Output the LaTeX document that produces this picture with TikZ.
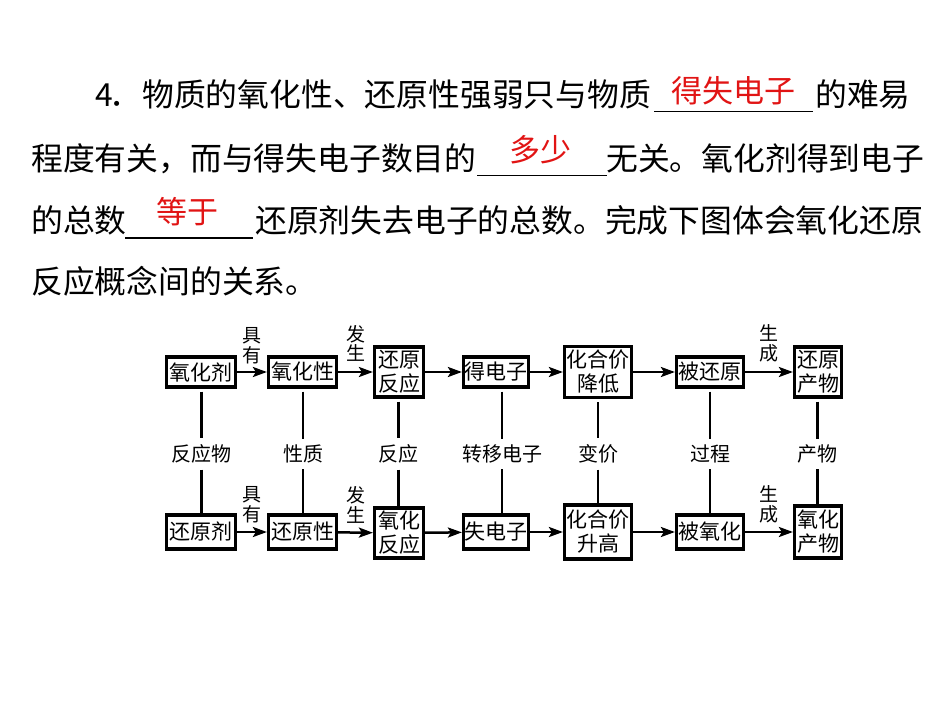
\documentclass[tikz,border=0pt]{standalone}
\usepackage{fontspec}
\setmainfont{Noto Sans CJK SC}
\usetikzlibrary{arrows.meta,calc}
\definecolor{ansred}{RGB}{225,20,20}
\begin{document}
\begin{tikzpicture}[x=1pt,y=-1pt,
  txt/.style={anchor=base west, inner sep=0pt, font=\fontsize{31.8}{38}\selectfont},
  ans/.style={anchor=base, inner sep=0pt, text=ansred, font=\fontsize{31}{38}\selectfont},
  blank/.style={line width=1.2pt},
  box/.style={draw, line width=3.2pt, inner sep=0pt, align=center, font=\fontsize{21}{24}\selectfont},
  lbl/.style={inner sep=6pt, font=\fontsize{20}{24}\selectfont},
  vlab/.style={inner sep=0pt, align=center, font=\fontsize{19}{19.5}\selectfont},
  arr/.style={line width=2.5pt, -{Stealth[length=14pt,width=10pt,inset=3pt]}},
  link/.style={line width=2.6pt}]
\useasboundingbox (0,0) rectangle (945,718);

% ---- text ----
\node[txt] (t1a) at (95,106) {4};
\node[txt] (t1b) at (109,106) {．};
\node[txt] (t1c) at (142,106) {物质的氧化性、还原性强弱只与物质};
\draw[blank] (654,111.5) -- (813,111.5);
\node[ans] (r1) at (733,102) {得失电子};
\node[txt] (t1d) at (815,106) {的难易};

\node[txt] (t2a) at (31,170) {程度有关，而与得失电子数目的};
\draw[blank] (477,175.5) -- (607,175.5);
\node[ans] (r2) at (540,161) {多少};
\node[txt] (t2b) at (606,170) {无关。氧化剂得到电子};

\node[txt] (t3a) at (31,232) {的总数};
\draw[blank] (125,238) -- (253,238);
\node[ans] (r3) at (187,223) {等于};
\node[txt] (t3b) at (255,232) {还原剂失去电子的总数。完成下图体会氧化还原};

\node[txt] (t4a) at (31,293) {反应概念间的关系。};

% ---- top row ----
\node[box, minimum width=69pt, minimum height=30pt] (A) at (201,372) {氧化剂};
\node[box, minimum width=68pt, minimum height=30pt] (B) at (302.5,372) {氧化性};
\node[box, minimum width=49pt, minimum height=50pt] (C) at (399,372) {还原\\反应};
\node[box, minimum width=65pt, minimum height=30pt] (D) at (496,372) {得电子};
\node[box, minimum width=67pt, minimum height=51pt] (E) at (598,372) {化合价\\降低};
\node[box, minimum width=67pt, minimum height=30pt] (F) at (710,372) {被还原};
\node[box, minimum width=47pt, minimum height=50pt] (G) at (818,372) {还原\\产物};

% ---- bottom row ----
\node[box, minimum width=69pt, minimum height=34pt] (H) at (201,532) {还原剂};
\node[box, minimum width=68pt, minimum height=34pt] (I) at (302.5,532) {还原性};
\node[box, minimum width=49pt, minimum height=50pt] (J) at (399,533) {氧化\\反应};
\node[box, minimum width=65pt, minimum height=34pt] (K) at (496,532) {失电子};
\node[box, minimum width=67pt, minimum height=54pt] (L) at (598,532) {化合价\\升高};
\node[box, minimum width=67pt, minimum height=34pt] (M) at (710,532) {被氧化};
\node[box, minimum width=47pt, minimum height=52pt] (N) at (818,532) {氧化\\产物};

% ---- vertical labels ----
\node[lbl] (l1) at (201.5,454) {反应物};
\node[lbl] (l2) at (303,454) {性质};
\node[lbl] (l3) at (398.5,454) {反应};
\node[lbl] (l4) at (502,454) {转移电子};
\node[lbl] (l5) at (598,454) {变价};
\node[lbl] (l6) at (710,454) {过程};
\node[lbl] (l7) at (817.5,454) {产物};

\foreach \t/\l/\b in {A/l1/H, B/l2/I, C/l3/J, D/l4/K, E/l5/L, F/l6/M, G/l7/N}{
  \draw[link, shorten <=3pt] (\l |- \t.south) -- (\l);
  \draw[link] (\l) -- (\l |- \b.north);
}

% ---- arrows ----
\draw[arr] (A) -- node[vlab, above=7pt] {具\\有} (B);
\draw[arr] (B) -- node[vlab, above=9pt] {发\\生} (C);
\draw[arr] (C) -- (D);
\draw[arr] (D) -- (E);
\draw[arr] (E) -- (F);
\draw[arr] (F) -- node[vlab, above=9pt] {生\\成} (G);

\draw[arr] (H) -- node[vlab, above=8pt] {具\\有} (I);
\draw[arr] (I) -- node[vlab, above=8pt] {发\\生} (J);
\draw[arr] (J) -- (K);
\draw[arr] (K) -- (L);
\draw[arr] (L) -- (M);
\draw[arr] (M) -- node[vlab, above=8pt] {生\\成} (N);
\end{tikzpicture}
\end{document}
